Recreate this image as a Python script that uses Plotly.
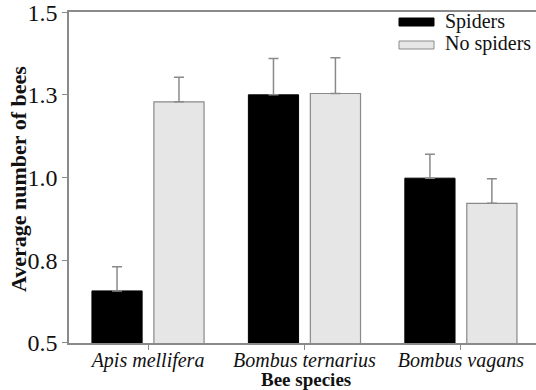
import plotly.graph_objects as go

species = ["Apis mellifera", "Bombus ternarius", "Bombus vagans"]
spiders = [0.657, 1.250, 0.998]
spiders_err = [0.073, 0.110, 0.072]
no_spiders = [1.229, 1.254, 0.922]
no_spiders_err = [0.074, 0.108, 0.074]
series_names = ["Spiders", "No spiders"]
y_tickvals = [0.5, 0.75, 1.0, 1.25, 1.5]
y_ticktext = ["0.5", "0.8", "1.0", "1.3", "1.5"]

FONT = "Liberation Serif, Times New Roman, DejaVu Serif, serif"
AXIS = "#8a8a8a"
LIGHT = "#e6e6e6"
TXT = "#111111"

L, T, B = 69, 12, 47
PW, PH = 536 - L, 390 - T - B

fig = go.Figure()
fig.add_trace(go.Bar(
    x=species, y=spiders, name=series_names[0],
    marker=dict(color="black", line=dict(color="black", width=1)),
    error_y=dict(type="data", symmetric=False, array=spiders_err,
                 arrayminus=[0] * len(spiders_err), color=AXIS, thickness=1.5, width=5),
))
fig.add_trace(go.Bar(
    x=species, y=no_spiders, name=series_names[1],
    marker=dict(color=LIGHT, line=dict(color=AXIS, width=1.2)),
    error_y=dict(type="data", symmetric=False, array=no_spiders_err,
                 arrayminus=[0] * len(no_spiders_err), color=AXIS, thickness=1.5, width=5),
))

fig.update_layout(
    width=536, height=390,
    margin=dict(l=L, r=0, t=T, b=B, autoexpand=False),
    paper_bgcolor="white", plot_bgcolor="white",
    barmode="group", bargap=0.208, bargroupgap=0.19,
    showlegend=False,
    font=dict(family=FONT, color=TXT),
)
fig.update_xaxes(
    range=[-0.505, 2.48], automargin=False, tickangle=0,
    showline=True, linecolor=AXIS, linewidth=1.5, mirror=True,
    ticks="outside", ticklen=5, tickcolor=AXIS, tickwidth=1.2,
    ticklabelstandoff=-7,
    tickfont=dict(family=FONT, size=20, style="italic", color=TXT),
    showgrid=False, zeroline=False,
)
fig.update_yaxes(
    range=[0.4995, 1.5005], automargin=False,
    tickvals=y_tickvals, ticktext=y_ticktext, ticklabeloverflow="allow",
    showline=True, linecolor=AXIS, linewidth=1.5,
    ticks="outside", ticklen=5, tickcolor=AXIS, tickwidth=1.2,
    tickfont=dict(family=FONT, size=24, color=TXT),
    showgrid=False, zeroline=False,
)

# axis titles
fig.add_annotation(xref="paper", yref="paper", x=(306 - L) / PW, y=(343 - 379) / PH,
                   text="<b>Bee species</b>", showarrow=False,
                   xanchor="center", yanchor="middle",
                   font=dict(family=FONT, size=19, color=TXT))
fig.add_annotation(xref="paper", yref="paper", x=(18 - L) / PW, y=(343 - 179) / PH,
                   text="<b>Average number of bees</b>", showarrow=False, textangle=-90,
                   xanchor="center", yanchor="middle",
                   font=dict(family=FONT, size=22, color=TXT))

# custom legend (wide flat swatches as in the original)
legend_items = [(series_names[0], "black", "black", 22), (series_names[1], LIGHT, AXIS, 45)]
for name, fill, edge, yc in legend_items:
    fig.add_shape(type="rect", xref="paper", yref="paper",
                  x0=(399 - L) / PW, x1=(434 - L) / PW,
                  y0=(343 - yc - 4) / PH, y1=(343 - yc + 4) / PH,
                  fillcolor=fill, line=dict(color=edge, width=1))
    fig.add_annotation(xref="paper", yref="paper", x=(443 - L) / PW, y=(343 - yc + 1) / PH,
                       text=name, showarrow=False, xanchor="left", yanchor="middle",
                       font=dict(family=FONT, size=20, color=TXT))

fig.write_html("out.html", config={"displayModeBar": False},
               post_script="document.body.style.margin='0';document.body.style.padding='0';")
